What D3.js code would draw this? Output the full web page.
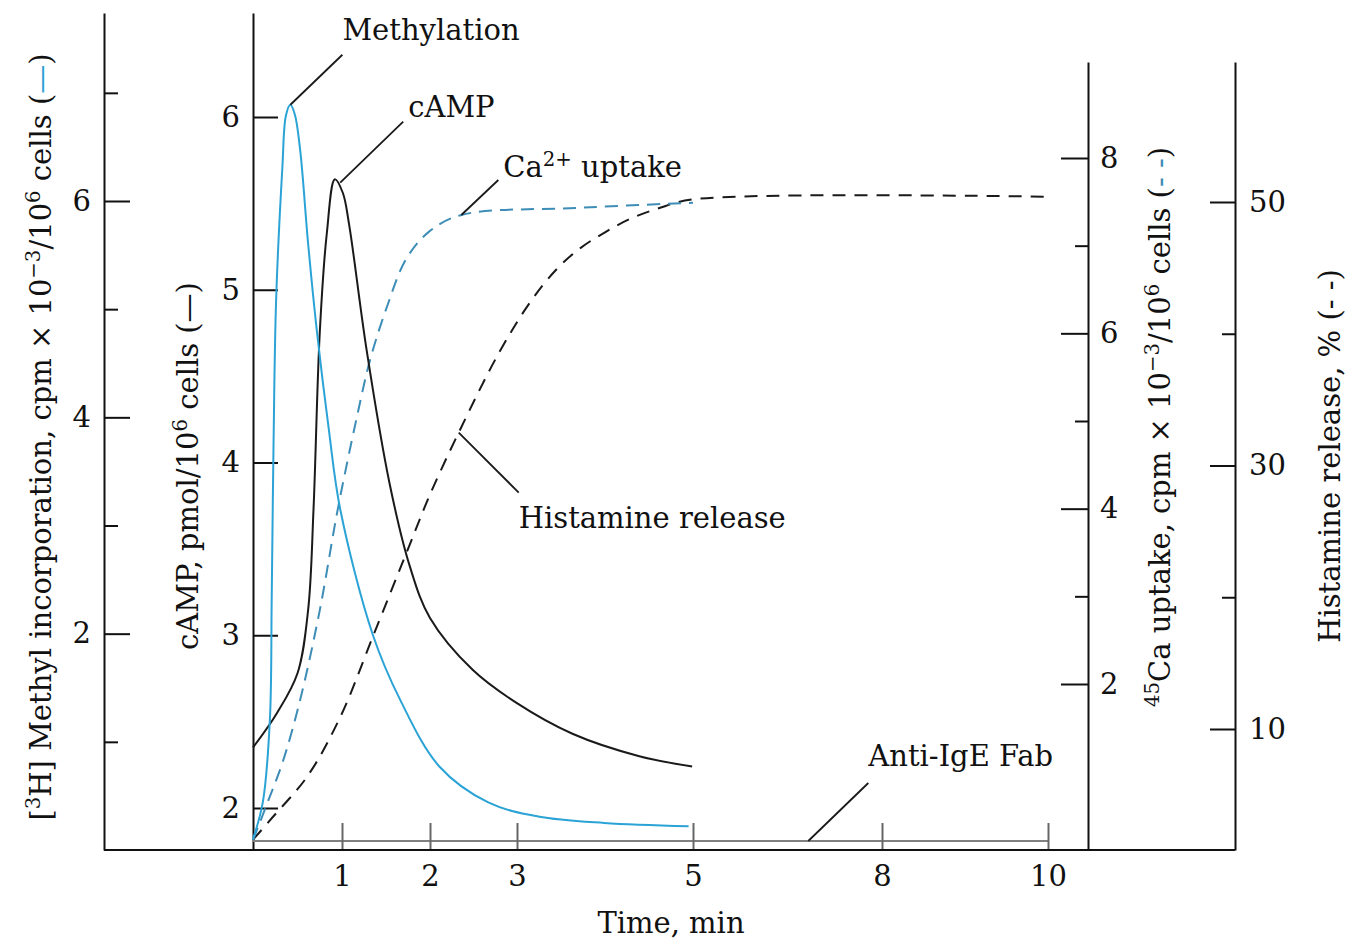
<!DOCTYPE html>
<html>
<head>
<meta charset="utf-8">
<script src="https://cdn.jsdelivr.net/npm/d3@7/dist/d3.min.js"></script>
<style>
  body { margin: 0; background: #fff; }
  svg text { font-family: "DejaVu Serif", serif; fill: #111; }
</style>
</head>
<body>
<svg id="chart" width="1346" height="941"></svg>
<script>
// data: time in min
var methylTime   = [0, 0.11, 0.19, 0.21, 0.23, 0.26, 0.33, 0.37, 0.42, 0.47, 0.53, 0.62, 0.72, 0.85, 0.98, 1.35, 1.66, 2.11, 2.67, 3.24, 3.99, 4.95];
var methylValues = [0.10, 0.44, 1.21, 2.31, 3.70, 5.09, 6.31, 6.79, 6.89, 6.80, 6.47, 5.60, 4.78, 3.90, 3.15, 1.99, 1.39, 0.77, 0.44, 0.31, 0.25, 0.22];

var campTime   = [0, 0.27, 0.50, 0.62, 0.68, 0.75, 0.83, 0.92, 1.01, 1.08, 1.28, 1.54, 1.77, 2.0, 2.49, 2.99, 3.63, 4.39, 4.99];
var campValues = [2.35, 2.55, 2.78, 3.15, 3.73, 4.75, 5.33, 5.64, 5.56, 5.38, 4.65, 3.88, 3.40, 3.10, 2.80, 2.61, 2.43, 2.30, 2.24];

var caTime   = [0, 0.16, 0.34, 0.53, 0.75, 0.95, 1.17, 1.32, 1.51, 1.73, 1.99, 2.36, 3.68, 5.0];
var caValues = [0.22, 0.64, 1.13, 1.82, 2.84, 3.98, 5.05, 5.70, 6.30, 6.85, 7.16, 7.35, 7.43, 7.49];

var histTime   = [0, 0.22, 0.61, 0.98, 1.35, 1.77, 2.0, 2.33, 2.78, 3.15, 3.45, 3.72, 4.0, 4.28, 4.6, 5.0, 10];
var histValues = [1.6, 3.3, 6.4, 10.9, 17.0, 24.0, 27.8, 32.5, 38.4, 42.4, 44.9, 46.5, 47.7, 48.7, 49.5, 50.2, 50.4];

// axis ticks
var timeBreaks = [0, 1, 2, 3, 5, 8, 10];
var timeTicks = [1, 2, 3, 5, 8, 10];
var methylMajor = [2, 4, 6];
var methylMinor = [1, 3, 5, 7];
var campTicks = [2, 3, 4, 5, 6];
var caMajor = [2, 4, 6, 8];
var caMinor = [3, 5, 7];
var histMajor = [10, 30, 50];
var histMinor = [20, 40];

var svg = d3.select('#chart');

var bottom = 850;
var leftTop = 13;
var rightTop = 62;
var fs = 29;

// time axis is broken: 0-5 min stretched, 5-10 compressed
var x = d3.scaleLinear()
  .domain(timeBreaks)
  .range([253, 342, 430, 517, 693, 882, 1048]);

function fullScale(d0, d1, r0, r1, top) {
  var s = d3.scaleLinear().domain([d0, d1]).range([r0, r1]);
  return s.domain([s.invert(bottom), s.invert(top)]).range([bottom, top]);
}

var yMethyl = fullScale(0, 6, 850, 201, leftTop);
var yCamp = fullScale(2, 6, 808, 117, leftTop);
var yCa = fullScale(2, 8, 684, 158, rightTop);
var yHist = fullScale(10, 50, 729, 202, rightTop);

function styleAxis(g) {
  g.selectAll('.domain').attr('stroke', '#111').attr('stroke-width', 2);
  g.selectAll('.tick line').attr('stroke', '#111').attr('stroke-width', 2);
  g.selectAll('.tick text')
    .attr('font-size', fs)
    .attr('font-family', '"DejaVu Serif", serif')
    .attr('fill', '#111');
}

function minor(g) {
  g.select('.domain').remove();
  g.selectAll('.tick line').attr('stroke', '#111').attr('stroke-width', 2);
}

// bottom frame
svg.append('line')
  .attr('x1', 104).attr('x2', 1235)
  .attr('y1', bottom).attr('y2', bottom)
  .attr('stroke', '#111').attr('stroke-width', 2);

// methyl axis (outer left)
svg.append('g').attr('transform', 'translate(104,0)')
  .call(d3.axisLeft(yMethyl).tickValues(methylMajor).tickSizeInner(-26).tickSizeOuter(0).tickPadding(13).tickFormat(d3.format('d')))
  .call(styleAxis);
svg.append('g').attr('transform', 'translate(104,0)')
  .call(d3.axisLeft(yMethyl).tickValues(methylMinor).tickSizeInner(-14).tickSizeOuter(0).tickFormat(''))
  .call(minor);

// cAMP axis
svg.append('g').attr('transform', 'translate(253,0)')
  .call(d3.axisLeft(yCamp).tickValues(campTicks).tickSizeInner(-25).tickSizeOuter(0).tickPadding(13).tickFormat(d3.format('d')))
  .call(styleAxis);

// 45Ca axis
svg.append('g').attr('transform', 'translate(1088,0)')
  .call(d3.axisRight(yCa).tickValues(caMajor).tickSizeInner(-27).tickSizeOuter(0).tickPadding(12).tickFormat(d3.format('d')))
  .call(styleAxis);
svg.append('g').attr('transform', 'translate(1088,0)')
  .call(d3.axisRight(yCa).tickValues(caMinor).tickSizeInner(-13).tickSizeOuter(0).tickFormat(''))
  .call(minor);

// histamine axis
svg.append('g').attr('transform', 'translate(1235,0)')
  .call(d3.axisRight(yHist).tickValues(histMajor).tickSizeInner(-25).tickSizeOuter(0).tickPadding(14).tickFormat(d3.format('d')))
  .call(styleAxis);
svg.append('g').attr('transform', 'translate(1235,0)')
  .call(d3.axisRight(yHist).tickValues(histMinor).tickSizeInner(-13).tickSizeOuter(0).tickFormat(''))
  .call(minor);

// inner time axis (grey baseline with ticks) and labels under the frame
svg.append('line')
  .attr('x1', x(0)).attr('x2', x(10))
  .attr('y1', 841).attr('y2', 841)
  .attr('stroke', '#808080').attr('stroke-width', 2);
svg.append('g').attr('transform', 'translate(0,823)')
  .call(d3.axisBottom(x).tickValues(timeTicks).tickSizeInner(26).tickSizeOuter(0).tickFormat(''))
  .call(function(g) {
    g.select('.domain').remove();
    g.selectAll('.tick line').attr('stroke', '#666').attr('stroke-width', 2);
  });
svg.append('g').attr('transform', 'translate(0,' + bottom + ')')
  .call(d3.axisBottom(x).tickValues(timeTicks).tickSize(0).tickPadding(15).tickFormat(d3.format('d')))
  .call(styleAxis)
  .call(function(g) { g.select('.domain').remove(); });

svg.append('text')
  .attr('x', 671).attr('y', 933)
  .attr('text-anchor', 'middle')
  .attr('font-size', fs)
  .text('Time, min');

// curves
var blue = '#2ba3d6';
var blueDash = '#3d8db7';
var black = '#1a1a1a';

function series(times, vals) {
  return times.map(function(t, i) { return [t, vals[i]]; });
}

function drawCurve(data, yScale, color, dash) {
  var line = d3.line()
    .x(function(d) { return x(d[0]); })
    .y(function(d) { return yScale(d[1]); })
    .curve(d3.curveCatmullRom.alpha(0.5));
  svg.append('path')
    .datum(data)
    .attr('d', line)
    .attr('fill', 'none')
    .attr('stroke', color)
    .attr('stroke-width', 2)
    .attr('stroke-dasharray', dash || null);
}

var methyl = series(methylTime, methylValues);
var camp = series(campTime, campValues);
var ca = series(caTime, caValues);
var hist = series(histTime, histValues);

drawCurve(hist, yHist, black, '13,9');
drawCurve(ca, yCa, blueDash, '13,8');
drawCurve(camp, yCamp, black);
drawCurve(methyl, yMethyl, blue);

// callouts: anchor on a curve, then offsets for leader end and label
var callouts = [
  { label: [['Methylation']], at: [x(0.42), yMethyl(6.89)], end: [52, -50], txt: [52, -65] },
  { label: [['cAMP']], at: [x(0.98), yCamp(5.62)], end: [63, -61], txt: [68, -66] },
  { label: [['Ca'], ['2+', 'sup'], [' uptake']], at: [x(2.36), yCa(7.35)], end: [37, -35], txt: [42, -38] },
  { label: [['Histamine release']], at: [x(2.33), yHist(32.5)], end: [60, 60], txt: [60, 95] },
  { label: [['Anti-IgE Fab']], at: [x(6.83), 841], end: [60, -58], txt: [60, -75] }
];

callouts.forEach(function(c) {
  svg.append('line')
    .attr('x1', c.at[0]).attr('y1', c.at[1])
    .attr('x2', c.at[0] + c.end[0]).attr('y2', c.at[1] + c.end[1])
    .attr('stroke', black).attr('stroke-width', 1.8);
  var t = svg.append('text')
    .attr('x', c.at[0] + c.txt[0])
    .attr('y', c.at[1] + c.txt[1])
    .attr('font-size', fs);
  addParts(t, c.label);
});

// rich text helper: [string, 'sup'] or [string, null, color]
function addParts(t, parts) {
  var raised = false;
  parts.forEach(function(p) {
    var s = t.append('tspan').text(p[0]);
    if (p[1] === 'sup') {
      s.attr('font-size', fs * 0.68).attr('dy', raised ? 0 : -11);
      raised = true;
    } else {
      if (raised) s.attr('dy', 11);
      raised = false;
    }
    if (p[2]) s.attr('fill', p[2]);
  });
}

function vTitle(cx, cy, parts) {
  var t = svg.append('text')
    .attr('transform', 'translate(' + cx + ',' + cy + ') rotate(-90)')
    .attr('text-anchor', 'middle')
    .attr('font-size', fs);
  addParts(t, parts);
}

vTitle(51, 437, [['['], ['3', 'sup'], ['H] Methyl incorporation, cpm \u00d7 10'], ['\u22123', 'sup'], ['/10'], ['6', 'sup'], [' cells ('], ['\u2014', null, blue], [')']]);
vTitle(198, 466, [['cAMP, pmol/10'], ['6', 'sup'], [' cells (\u2014)']]);
vTitle(1170, 427, [['45', 'sup'], ['Ca uptake, cpm \u00d7 10'], ['\u22123', 'sup'], ['/10'], ['6', 'sup'], [' cells ('], ['- -', null, blueDash], [')']]);
vTitle(1340, 456, [['Histamine release, % (- -)']]);
</script>
</body>
</html>
